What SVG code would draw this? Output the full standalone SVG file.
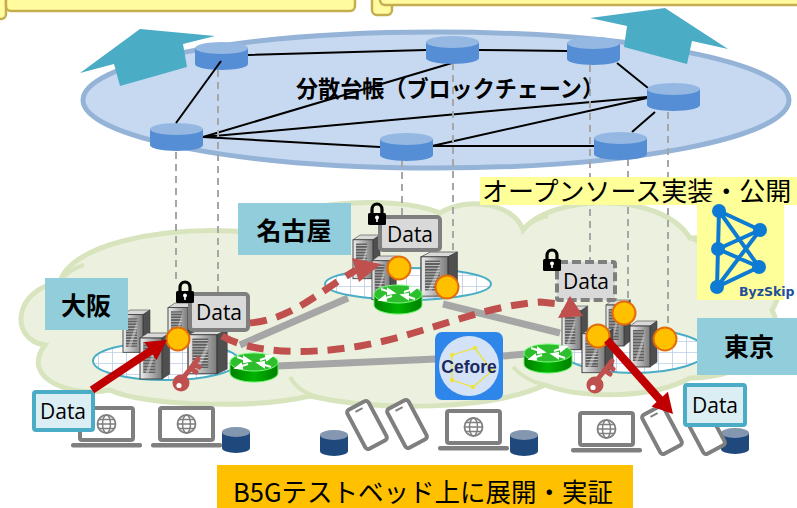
<svg xmlns="http://www.w3.org/2000/svg" xmlns:xlink="http://www.w3.org/1999/xlink" width="797" height="508" viewBox="0 0 797 508">
<defs>
<style>
.jp{font-family:"Noto Sans CJK JP","Noto Sans",sans-serif;fill:#000}
.lbl{font-family:"Noto Sans CJK JP","Noto Sans",sans-serif;font-weight:bold;font-size:25px;text-anchor:middle;fill:#000}
.data{font-family:"Open Sans","Liberation Sans",sans-serif;font-size:21px;text-anchor:middle;fill:#000}
.vd{stroke:#A6A6A6;stroke-width:2;stroke-dasharray:7 5;fill:none}
.chain{stroke:#000;stroke-width:2;fill:none}
.gl{stroke:#A6A6A6;stroke-width:7;fill:none}
.rd{stroke:#C0504D;stroke-width:7;stroke-dasharray:17 10;fill:none}
.ball{fill:#FFC000;stroke:#E46C0A;stroke-width:2}
.ring{fill:url(#grid);stroke:#4BACC6;stroke-width:2}
.tag{fill:#92CDDC}
.dbox{fill:#D9D9D9;stroke:#7F7F7F;stroke-width:4}
.cbox{fill:#DAEEF3;stroke:#4BACC6;stroke-width:4}
.topbox{fill:#FFFB9E;stroke:#C4AE50;stroke-width:2.5}
</style>
<linearGradient id="srvFront" x1="0" x2="1" y1="0" y2="0">
<stop offset="0" stop-color="#EDEDED"/><stop offset="1" stop-color="#7A7A7A"/>
</linearGradient>
<linearGradient id="rtBody" x1="0" x2="1" y1="0" y2="0">
<stop offset="0" stop-color="#008000"/><stop offset="0.5" stop-color="#00B400"/><stop offset="1" stop-color="#008000"/>
</linearGradient>
<pattern id="grid" patternUnits="userSpaceOnUse" width="14" height="11">
<rect width="14" height="11" fill="#fff"/>
<path d="M0,0V11M0,0H14" stroke="#B9CDE5" stroke-width="1.6"/>
</pattern>
<!-- ledger node cylinder, 53 x 28 -->
<g id="cyl">
<path d="M0,6V22A26.5,6 0 0 0 53,22V6Z" fill="#558ED5"/>
<ellipse cx="26.5" cy="6" rx="26.5" ry="6" fill="#95B8E3"/>
</g>
<!-- small storage cylinder, 28 x 26 -->
<g id="db">
<path d="M0,5V21A14,5 0 0 0 28,21V5Z" fill="#1F497D"/>
<ellipse cx="14" cy="5" rx="14" ry="5" fill="#8497B0"/>
</g>
<!-- tower server, 27 x 46 -->
<g id="srv">
<polygon points="0,5 7,0 27,0 20,5" fill="#D9D9D9" stroke="#404040" stroke-width="0.6"/>
<polygon points="20,5 27,0 27,41 20,46" fill="#4F4F4F" stroke="#404040" stroke-width="0.6"/>
<rect x="0" y="5" width="20" height="41" fill="url(#srvFront)" stroke="#3A3A3A" stroke-width="0.9"/>
<rect x="3" y="9" width="11" height="31" fill="#5E5E5E"/>
<path d="M3,11H14M3,14H14M3,17H14M3,20H14M3,23H14M3,26H14M3,29H14M3,32H14M3,35H14M3,38H14" stroke="#BDBDBD" stroke-width="1"/>
<polygon points="5,40 14,12 14,20 8,40" fill="#fff" opacity="0.35"/>
</g>
<!-- router, origin at the centre of its top face -->
<g id="rt">
<path d="M-24,0V11A24,9 0 0 0 24,11V0Z" fill="url(#rtBody)" stroke="#5CF25C" stroke-width="1"/>
<ellipse rx="24" ry="9" fill="#2DBE2D" stroke="#7CFC7C" stroke-width="1"/>
<g stroke="#fff" stroke-width="2" fill="#fff">
<path d="M-17,-5L-8,-2M17,5L8,2M6,-2L15,-5M-6,2L-15,5" fill="none"/>
<polygon points="-4,-1 -10,-5 -10,0"/>
<polygon points="4,1 10,5 10,0"/>
<polygon points="18,-6 12,-6.5 13,-2"/>
<polygon points="-18,6 -12,6.5 -13,2"/>
</g>
</g>
<!-- padlock, 20 x 24 -->
<g id="lock">
<path d="M5,12V7.5A5,5.5 0 0 1 15,7.5V12" fill="none" stroke="#000" stroke-width="3.2"/>
<rect x="1" y="11" width="18" height="12" rx="1.5" fill="#000"/>
<circle cx="10" cy="15.5" r="2" fill="#fff"/>
<rect x="9.2" y="16" width="1.6" height="4" fill="#fff"/>
</g>
<!-- key, origin at the ring -->
<g id="key">
<path d="M2,-5L17,-24M10,-14.5L15,-11M13.5,-19L18,-16" stroke="#C0504D" stroke-width="5" stroke-linecap="round" fill="none"/>
<circle r="8.5" fill="#C0504D"/>
<circle cx="-2" cy="2.5" r="2.6" fill="#fff"/>
</g>
<!-- laptop, origin at screen corner -->
<g id="laptop">
<rect x="0" y="0" width="53" height="32" rx="2" fill="#fff" stroke="#7F7F7F" stroke-width="4"/>
<circle cx="26.5" cy="16" r="9" fill="none" stroke="#7F7F7F" stroke-width="1.8"/>
<ellipse cx="26.5" cy="16" rx="4" ry="9" fill="none" stroke="#7F7F7F" stroke-width="1.5"/>
<path d="M17.5,16H35.5M19,11.5H34M19,20.5H34" stroke="#7F7F7F" stroke-width="1.5"/>
<rect x="-9" y="35" width="71" height="4.5" rx="2" fill="#7F7F7F"/>
</g>
<!-- smartphone, origin at centre -->
<g id="phone">
<rect x="-12" y="-22" width="24" height="44" rx="3" fill="#fff" stroke="#7F7F7F" stroke-width="4"/>
<path d="M-4,-17H4" stroke="#7F7F7F" stroke-width="2"/>
</g>
</defs>

<rect width="797" height="508" fill="#fff"/>

<!-- header boxes -->
<g id="header">
<rect class="topbox" x="-20" y="-20" width="26" height="39" rx="5"/>
<rect class="topbox" x="6" y="-20" width="349" height="31" rx="5"/>
<rect class="topbox" x="372" y="-20" width="20" height="35" rx="5"/>
<rect class="topbox" x="380" y="-20" width="430" height="25" rx="5"/>
</g>

<!-- distributed ledger plane -->
<g id="ledger-plane">
<ellipse cx="436" cy="100" rx="353" ry="68" fill="#C6D9F0" stroke="#95B3D7" stroke-width="5"/>
<polygon points="80,73 140,29 215,36 183,44 187,67 120,86 114,64" fill="#4BACC6"/>
<polygon points="590,18 665,8 728,49 692,41 687,64 624,47 627,26" fill="#4BACC6"/>
</g>

<!-- testbed cloud -->
<g id="cloud">
<path d="M45,345C10,340 12,290 60,282C70,245 160,225 250,232C270,205 390,192 440,213C470,195 515,205 523,230C550,195 660,190 690,238C745,235 795,275 772,310C790,345 745,378 690,378C650,400 580,398 545,385C490,410 380,412 310,396C250,410 140,405 110,390C70,398 20,378 45,345Z" fill="#EBF1DE" stroke="#D7E4BD" stroke-width="5"/>
<path d="M60,282C66,272 74,268 84,265M523,230C530,222 538,218 548,216M290,377C296,388 305,393 318,397M513,367C522,377 532,382 545,385M690,238C700,242 708,248 714,256" fill="none" stroke="#D7E4BD" stroke-width="4"/>
</g>

<!-- ledger links and vertical mappings -->
<g id="connectors">
<path class="chain" d="M248,55L426,50M479,50L567,51M617,63L648,88M655,112L632,132M203,137L452,63M203,137L647,97M203,137L380,147M432,146L594,146M432,146L647,98"/>
<path class="vd" d="M176,152V280M218,70V292M402,160V215M453,63V253M590,65V260M628,159V302M668,112V328"/>
<path class="gl" d="M240,345L348,298M277,366L436,359M503,356L526,354M443,304L560,333"/>
</g>

<!-- ledger nodes -->
<g id="ledger-node-1"><use xlink:href="#cyl" transform="translate(195,42)"/></g>
<g id="ledger-node-2"><use xlink:href="#cyl" transform="translate(150,123)"/></g>
<g id="ledger-node-3"><use xlink:href="#cyl" transform="translate(426,36)"/></g>
<g id="ledger-node-4"><use xlink:href="#cyl" transform="translate(567,37)"/></g>
<g id="ledger-node-5"><use xlink:href="#cyl" transform="translate(647,83)"/></g>
<g id="ledger-node-6"><use xlink:href="#cyl" transform="translate(594,132)"/></g>
<g id="ledger-node-7"><use xlink:href="#cyl" transform="translate(380,133)"/></g>
<path class="chain" d="M176,123L221,61"/>
<text class="jp" x="296" y="97" font-size="23" font-weight="bold" textLength="308" lengthAdjust="spacingAndGlyphs">分散台帳（ブロックチェーン）</text>

<!-- Osaka site -->
<g id="osaka">
<ellipse class="ring" cx="166" cy="361" rx="73" ry="19"/>
<use xlink:href="#srv" transform="translate(123,310) scale(1,0.92)"/>
<use xlink:href="#srv" transform="translate(168,303) scale(1,0.92)"/>
<use xlink:href="#srv" transform="translate(140,333) scale(1.1,1)"/>
<use xlink:href="#srv" transform="translate(188,330) scale(1.45,0.95)"/>
<circle class="ball" cx="178" cy="339" r="11.5"/>
<use xlink:href="#key" transform="translate(181,383)"/>
<rect class="dbox" x="190" y="294" width="58" height="36" rx="3"/>
<text class="data" x="219" y="320">Data</text>
<use xlink:href="#lock" transform="translate(175,280)"/>
<rect class="tag" x="45" y="278" width="83" height="52"/>
<text class="lbl" x="86" y="315">大阪</text>
</g>

<!-- Nagoya site -->
<g id="nagoya">
<ellipse class="ring" cx="408" cy="284" rx="83" ry="16"/>
<use xlink:href="#srv" transform="translate(353,235) scale(1,0.95)"/>
<use xlink:href="#srv" transform="translate(421,252) scale(1.35,0.96)"/>
<use xlink:href="#srv" transform="translate(372,256) scale(0.9,0.95)"/>
<circle class="ball" cx="399" cy="268" r="11.5"/>
<circle class="ball" cx="447" cy="287" r="11.5"/>
<rect class="dbox" x="380" y="217" width="60" height="33" rx="3"/>
<text class="data" x="410" y="242">Data</text>
<use xlink:href="#lock" transform="translate(367,202)"/>
<rect class="tag" x="238" y="203" width="113" height="52"/>
<text class="lbl" x="294" y="240">名古屋</text>
</g>

<!-- Tokyo site -->
<g id="tokyo">
<ellipse class="ring" cx="634" cy="351" rx="72" ry="22"/>
<use xlink:href="#srv" transform="translate(562,306) scale(0.95,0.95)"/>
<use xlink:href="#srv" transform="translate(606,300) scale(0.9,1)"/>
<use xlink:href="#srv" transform="translate(630,321) scale(1,1)"/>
<use xlink:href="#srv" transform="translate(582,329) scale(1.15,0.95)"/>
<circle class="ball" cx="624" cy="313" r="11.5"/>
<circle class="ball" cx="598" cy="336" r="11.5"/>
<circle class="ball" cx="665" cy="339" r="11.5"/>
<use xlink:href="#key" transform="translate(595,385)"/>
<rect class="dbox" x="557" y="262" width="58" height="38" rx="2" stroke-dasharray="9 4"/>
<text class="data" x="586" y="289">Data</text>
<use xlink:href="#lock" transform="translate(542,248)"/>
<rect class="tag" x="697" y="318" width="100" height="57"/>
<text class="lbl" x="749" y="356">東京</text>
</g>

<!-- replication flows -->
<g id="flows">
<path class="rd" d="M250,323C285,320 310,300 340,280L356,270"/>
<polygon points="352,258 381,264 359,282" fill="#C0504D"/>
<path class="rd" d="M222,336C250,352 300,356 360,346C420,336 480,306 540,302L560,304"/>
<polygon points="558,318 570,296 583,316" fill="#C0504D"/>
</g>

<!-- routers -->
<g id="router-osaka"><use xlink:href="#rt" transform="translate(254,362)"/></g>
<g id="router-nagoya"><use xlink:href="#rt" transform="translate(398,294)"/></g>
<g id="router-tokyo"><use xlink:href="#rt" transform="translate(548,353)"/></g>

<!-- Cefore -->
<g id="cefore">
<rect x="435" y="332" width="68" height="68" rx="7" fill="#2F86EA"/>
<circle cx="469" cy="366" r="30" fill="#D3E2F6"/>
<polygon points="452,355 475,348 492,371 473,387 452,380" fill="none" stroke="#EEE33A" stroke-width="1.3"/>
<g fill="#EEE33A"><circle cx="452" cy="355" r="2.2"/><circle cx="475" cy="348" r="2.2"/><circle cx="492" cy="371" r="2.2"/><circle cx="473" cy="387" r="2.2"/><circle cx="452" cy="380" r="2.2"/></g>
<text x="469" y="373" font-family="Liberation Sans,Arial,sans-serif" font-weight="bold" font-size="17.5" text-anchor="middle" fill="#1B2A5E">Cefore</text>
</g>

<!-- open source note and ByzSkip -->
<g id="oss">
<rect x="480" y="177" width="317" height="28" fill="#FFFF99"/>
<text class="jp" x="482" y="201" font-size="26">オープンソース実装・公開</text>
</g>
<g id="byzskip">
<rect x="697" y="202" width="87" height="98" fill="#FFFF99"/>
<path d="M719,211L718,249L717,287M719,211L760,230M719,211L759,267M718,249L760,230M718,249L759,267M717,287L760,230M717,287L759,267" stroke="#0D7BD3" stroke-width="4" stroke-linecap="round" fill="none"/>
<g fill="#0D7BD3"><circle cx="719" cy="211" r="7"/><circle cx="760" cy="230" r="7"/><circle cx="718" cy="249" r="7"/><circle cx="759" cy="267" r="7"/><circle cx="717" cy="287" r="7"/></g>
<text x="739" y="296" font-family="DejaVu Sans,sans-serif" font-weight="bold" font-size="12.5" fill="#1F4E9C">ByzSkip</text>
</g>

<!-- end devices -->
<g id="devices">
<use xlink:href="#laptop" transform="translate(80,408)"/>
<use xlink:href="#laptop" transform="translate(160,408)"/>
<use xlink:href="#laptop" transform="translate(447,411)"/>
<use xlink:href="#laptop" transform="translate(580,413)"/>
<use xlink:href="#db" transform="translate(222,427)"/>
<use xlink:href="#db" transform="translate(320,430)"/>
<use xlink:href="#db" transform="translate(510,430)"/>
<use xlink:href="#db" transform="translate(721,428)"/>
<use xlink:href="#phone" transform="translate(367,425) rotate(-28)"/>
<use xlink:href="#phone" transform="translate(407,424) rotate(-28)"/>
<use xlink:href="#phone" transform="translate(662,430) rotate(-28)"/>
<use xlink:href="#phone" transform="translate(705,430) rotate(-28)"/>
</g>

<!-- client data -->
<g id="client-osaka">
<rect class="cbox" x="34" y="392" width="59" height="38" rx="2"/>
<text class="data" x="63" y="419">Data</text>
</g>
<g id="client-tokyo">
<rect class="cbox" x="685" y="385" width="60" height="40" rx="2"/>
<text class="data" x="715" y="413">Data</text>
</g>

<!-- upload / download arrows -->
<g id="access-arrows" fill="#C00000">
<path d="M92,390L152,350" stroke="#C00000" stroke-width="8"/>
<polygon points="167,340 156.5,360.3 144.3,341.9"/>
<path d="M607,340L662,402" stroke="#C00000" stroke-width="8"/>
<polygon points="673,414 651.5,406.4 667.9,391.8"/>
</g>

<!-- testbed caption -->
<g id="caption">
<rect x="217" y="465" width="416" height="45" fill="#FFC000"/>
<text class="jp" x="233" y="502" font-size="26" textLength="380" lengthAdjust="spacingAndGlyphs">B5Gテストベッド上に展開・実証</text>
</g>
</svg>
